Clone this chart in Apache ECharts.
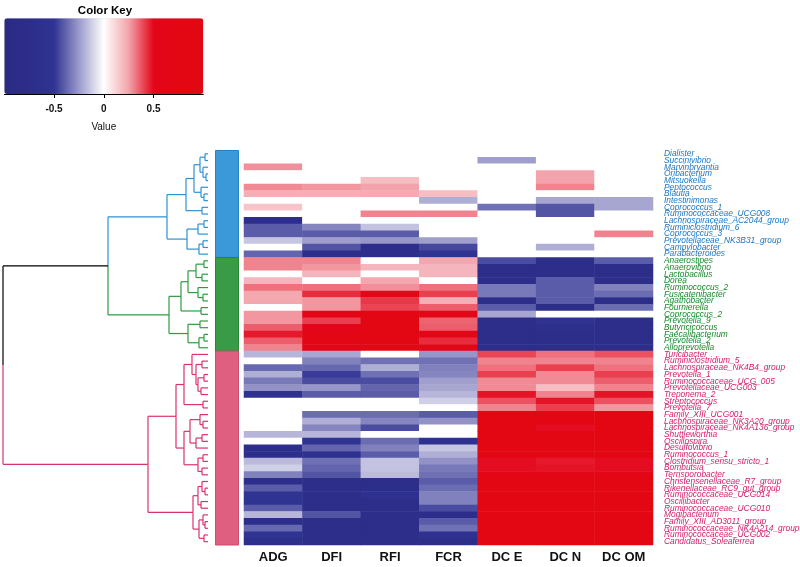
<!DOCTYPE html>
<html><head><meta charset="utf-8">
<script src="https://cdn.jsdelivr.net/npm/echarts@6/dist/echarts.min.js"></script>
<style>html,body{margin:0;padding:0;background:#fff}#c{width:800px;height:567px}</style>
</head><body><div id="c"></div><script>
const genera = ['Dialister','Succinivibrio','Marvinbryantia','Oribacterium','Mitsuokella','Peptococcus','Blautia','Intestinimonas','Coprococcus_1','Ruminococcaceae_UCG008','Lachnospiraceae_AC2044_group','Ruminiclostridium_6','Coprococcus_3','Prevotellaceae_NK3B31_group','Campylobacter','Parabacteroides',
'Anaerostipes','Anaerovibrio','Lactobacillus','Dorea','Ruminococcus_2','Fusicatenibacter','Agathobacter','Fournierella','Coprococcus_2','Prevotella_9','Butyricicoccus','Faecalibacterium','Prevotella_2','Alloprevotella',
'Turicibacter','Ruminiclostridium_5','Lachnospiraceae_NK4B4_group','Prevotella_1','Ruminococcaceae_UCG_005','Prevotellaceae_UCG003','Treponema_2','Streptococcus','Prevotella_7','Family_XIII_UCG001','Lachnospiraceae_NK3A20_group','Lachnospiraceae_NK4A136_group','Shuttleworthia','Oscillospira','Desulfovibrio','Ruminococcus_1','Clostridium_sensu_stricto_1','Bombutsia','Terrisporobacter','Christensenellaceae_R7_group','Rikenellaceae_RC9_gut_group','Ruminococcaceae_UCG014','Oscillibacter','Ruminococcaceae_UCG010','Mogibacterium','Family_XIII_AD3011_group','Ruminococcaceae_NK4A214_group','Ruminococcaceae_UCG002','Candidatus_Soleaferrea'];
const groupSizes = [16, 14, 29];
const traits = ['ADG','DFI','RFI','FCR','DC E','DC N','DC OM'];
const ADG = [0,0,0.28,0,0,0.29,0.22,0,0.16,0, -0.7,-0.4,-0.4,-0.14,0,-0.38, 0.3,0.3,0,0.2,0.33,0.24,0.24,0,0.27,0.27,0.36,0.47,0.36,0.3, -0.18,0,-0.37,-0.2,-0.33,-0.27,-0.6,0,0,0, 0,0,-0.18,0,-0.7,-0.7,-0.17,-0.12,-0.31,-0.7, -0.4,-0.5,-0.5,-0.4,-0.18,-0.7,-0.37,-0.5,-0.65];
const DFI = [0,0,0,0,0,0.27,0.22,0,0,0, 0,-0.3,-0.4,-0.24,-0.42,-0.7, 0.3,0.27,0.2,0,0.33,0.44,0.27,0.27,0.6,0.41,0.5,0.7,0.7,0.6, -0.22,-0.31,-0.37,-0.48,-0.44,-0.26,-0.4,0,0,-0.36, -0.2,-0.3,-0.18,-0.5,-0.38,-0.6,-0.35,-0.38,-0.42,-0.75, -0.75,-0.75,-0.75,-0.75,-0.42,-0.75,-0.75,-0.75,-0.75];
const RFI = [0,0,0,0,0.18,0.25,0.23,0,0,0.3, 0,-0.15,-0.4,-0.26,-0.7,-0.7, 0,0.2,0,0.24,0.28,0.6,0.42,0.4,0.75,0.75,0.75,0.75,0.75,0.75, 0,-0.35,-0.2,-0.35,-0.44,-0.38,-0.4,0,0,-0.36, -0.3,-0.44,0,-0.36,-0.31,-0.4,-0.15,-0.15,-0.17,-0.75, -0.75,-0.6,-0.75,-0.75,-0.75,-0.75,-0.75,-0.75,-0.75];
const FCR = [0,0,0,0,0,0,0.18,-0.2,0,0.3, 0,0,0,-0.24,-0.45,-0.5, 0.24,0.2,0.2,0,0.33,0.41,0.22,0.36,0.6,0.35,0.36,0.6,0.44,0.6, -0.26,-0.35,-0.31,-0.3,-0.24,-0.22,-0.18,-0.12,0,-0.4, -0.27,0,0,-0.6,-0.14,-0.2,-0.27,-0.33,-0.35,-0.4, -0.36,-0.31,-0.31,-0.44,-0.7,-0.4,-0.35,-0.6,-0.75];
const DCE = [0,-0.24,0,0,0,0,0,0,-0.35,0, 0,0,0,0,0,0, -0.44,-0.75,-0.75,-0.75,-0.33,-0.33,-0.75,-0.4,-0.22,-0.75,-0.75,-0.75,-0.75,-0.75, 0.4,0.3,0.33,0.41,0.29,0.29,0.48,0.38,0.3,0.75, 0.75,0.75,0.75,0.75,0.75,0.75,0.49,0.49,0.6,0.75, 0.75,0.75,0.75,0.75,0.75,0.75,0.75,0.75,0.75];
const DCN = [0,0,0,0.25,0.25,0.3,0,-0.22,-0.42,-0.42, 0,0,0,0,-0.2,0, -0.75,-0.75,-0.75,-0.4,-0.4,-0.4,-0.4,-0.75,0,-0.55,-0.65,-0.75,-0.75,-0.75, 0.33,0.3,0.41,0.29,0.29,0.18,0.3,0.48,0.41,0.75, 0.75,0.49,0.75,0.75,0.75,0.75,0.47,0.48,0.6,0.75, 0.75,0.75,0.75,0.75,0.75,0.75,0.75,0.75,0.75];
const DCOM = [0,0,0,0,0,0,0,-0.22,-0.22,0, 0,0,0.3,0,0,0, -0.4,-0.75,-0.75,-0.75,-0.31,-0.36,-0.75,-0.36,0,-0.75,-0.75,-0.75,-0.75,-0.75, 0.38,0.3,0.33,0.41,0.36,0.3,0.48,0.38,0.27,0.75, 0.75,0.75,0.75,0.75,0.75,0.75,0.49,0.49,0.6,0.75, 0.75,0.75,0.75,0.75,0.75,0.75,0.75,0.75,0.75];
const keyTicks = [-0.5, 0, 0.5];
// row dendrogram: [height, left, right], leaves are row indices
const blueTree = [41, [22, [14, [8, [3,0,1], [5,2,[2,3,4]]], [7, 5, [4,6,7]]], [6, 8, 9]], [21, [10, [4,10,11], 12], [9, [5,13,14], 15]]];
const greenTree = [39, [27, [20, [12,[4,16,17],[6,18,19]], [10,20,[5,21,22]]], [7,23,24]], [20, [8,25,26], [9,[4,27,28],29]]];
const pinkTree = [60, [32, [24, [16, 30, [12, [6,31,32], [10, [4,33,34], [7,35,36]]]], [5,37,38]], [24, [18, [8,39,[5,40,41]], [12,[6,42,43],44]], [10,[5,45,46],[6,47,48]]]], [15, [10, [6,49,[3,50,51]], [7,52,53]], [9, [5,54,[3,55,56]], [4,57,58]]]];
const rowTree = [205, [100, blueTree, greenTree], pinkTree];

const columns = [ADG, DFI, RFI, FCR, DCE, DCN, DCOM];
const groupOf = [];
groupSizes.forEach((n, g) => { for (let i = 0; i < n; i++) groupOf.push(g); });
const labelColors = ['#1a76c6', '#17892a', '#d41c6c'];
const dendroColors = ['#3091d2', '#2f9a42', '#d8336f', '#000000'];
const sideFill = ['#3b99d9', '#3a9b47', '#de5f80'];
const sideStroke = ['#2483c6', '#2a8637', '#cf4c6f'];
const keyColors = ['#2b2a82', '#2d2d8a', '#2f3392', '#9b9acb', '#ffffff', '#f3a3ab', '#e3061a', '#e30613', '#e30613'];

const heat = [];
columns.forEach((col, c) => col.forEach((v, r) => heat.push([c, r, v])));

const segs = [];
function walk(node) {
  if (typeof node === 'number') return { h: 0, y: node, col: groupOf[node] };
  const L = walk(node[1]), R = walk(node[2]);
  const h = node[0], y = (L.y + R.y) / 2;
  segs.push([h, L.y, h, y, L.col], [h, y, h, R.y, R.col]);
  segs.push([h, L.y, L.h, L.y, L.col], [h, R.y, R.h, R.y, R.col]);
  return { h, y, col: L.col === R.col ? L.col : 3 };
}
walk(rowTree);

const side = [];
let s = 0;
groupSizes.forEach((n, g) => { side.push([s, s + n - 1, g]); s += n; });

const TOP = 150.5, H = 394.5, N = genera.length;
const FONT = 'Liberation Sans, Arial, sans-serif';
const chart = echarts.init(document.getElementById('c'), null, { renderer: 'canvas' });
chart.setOption({
  backgroundColor: '#ffffff',
  animation: false,
  title: { text: 'Color Key', left: 100, top: 0, textAlign: 'center',
    textStyle: { fontSize: 11.5, fontWeight: 'bold', color: '#000', fontFamily: FONT } },
  grid: [
    { left: 0, top: TOP, width: 208, height: H, outerBoundsMode: 'none', containLabel: false },
    { left: 215, top: TOP, width: 24, height: H, outerBoundsMode: 'none', containLabel: false },
    { left: 244, top: TOP, width: 409, height: H, outerBoundsMode: 'none', containLabel: false },
    { left: 4.3, top: 18.3, width: 199, height: 75.7, outerBoundsMode: 'none', containLabel: false }
  ],
  xAxis: [
    { gridIndex: 0, type: 'value', min: 0, max: 208, inverse: true, show: false },
    { gridIndex: 1, type: 'value', min: 0, max: 1, show: false },
    { gridIndex: 2, type: 'category', data: traits, axisLine: { show: false }, axisTick: { show: false },
      splitLine: { show: false },
      axisLabel: { interval: 0, fontSize: 13, fontWeight: 'bold', color: '#111', margin: 6, fontFamily: FONT } },
    { gridIndex: 3, type: 'value', min: -1, max: 1, splitLine: { show: false },
      axisLine: { show: true, lineStyle: { color: '#000', width: 1 } },
      axisTick: { show: true, customValues: keyTicks, length: 4, lineStyle: { color: '#000' } },
      axisLabel: { customValues: keyTicks, fontSize: 10, fontWeight: 'bold', color: '#111', margin: 10, fontFamily: FONT,
        formatter: v => String(v) },
      name: 'Value', nameLocation: 'middle', nameGap: 28,
      nameTextStyle: { fontSize: 10, color: '#111', fontFamily: FONT } }
  ],
  yAxis: [
    { gridIndex: 0, type: 'value', min: -0.5, max: N - 0.5, inverse: true, show: false },
    { gridIndex: 1, type: 'value', min: -0.5, max: N - 0.5, inverse: true, show: false },
    { gridIndex: 2, type: 'category', data: genera, inverse: true, position: 'right',
      axisLine: { show: false }, axisTick: { show: false }, splitLine: { show: false },
      axisLabel: { interval: 0, fontSize: 8.4, fontStyle: 'italic', margin: 11, fontFamily: FONT,
        color: (v, i) => labelColors[groupOf[i]] } },
    { gridIndex: 3, type: 'value', show: false, min: 0, max: 1 }
  ],
  visualMap: {
    type: 'continuous', min: -1, max: 1, orient: 'horizontal', left: 4.3, top: 18.3,
    itemWidth: 75.7, itemHeight: 199, calculable: false, padding: 0, seriesIndex: 2,
    inRange: { color: keyColors }
  },
  series: [
    { type: 'custom', xAxisIndex: 0, yAxisIndex: 0, data: segs, clip: false, silent: true,
      encode: { x: [0, 2], y: [1, 3] },
      renderItem: (params, api) => {
        const p1 = api.coord([api.value(0), api.value(1)]);
        const p2 = api.coord([api.value(2), api.value(3)]);
        return { type: 'line', shape: { x1: p1[0], y1: p1[1], x2: p2[0], y2: p2[1] },
          style: { stroke: dendroColors[api.value(4)], lineWidth: 1.2 } };
      } },
    { type: 'custom', xAxisIndex: 1, yAxisIndex: 1, data: side, silent: true,
      encode: { y: [0, 1] },
      renderItem: (params, api) => {
        const p1 = api.coord([0, api.value(0) - 0.5]);
        const p2 = api.coord([1, api.value(1) + 0.5]);
        const g = api.value(2);
        return { type: 'rect', shape: { x: p1[0] + 0.5, y: p1[1], width: p2[0] - p1[0] - 1, height: p2[1] - p1[1] },
          style: { fill: sideFill[g], stroke: sideStroke[g], lineWidth: 1 } };
      } },
    { type: 'heatmap', xAxisIndex: 2, yAxisIndex: 2, data: heat, silent: true,
      itemStyle: { borderWidth: 0 }, emphasis: { disabled: true } }
  ]
});
</script></body></html>
